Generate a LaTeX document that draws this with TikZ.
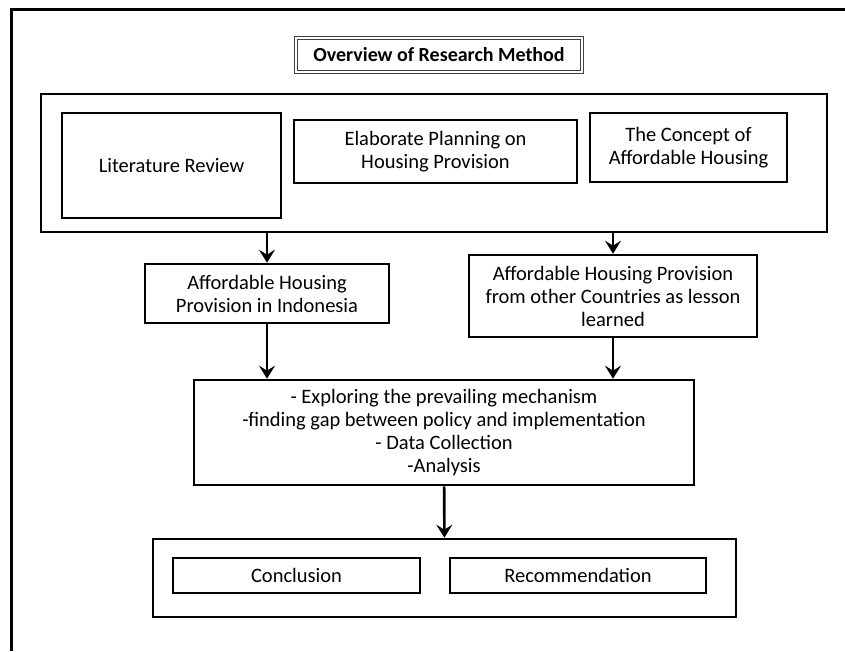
\documentclass[tikz,border=0pt]{standalone}
\usepackage{fontspec}
\setmainfont{Carlito}
\usetikzlibrary{positioning,arrows.meta}

\begin{document}
\begin{tikzpicture}[
        x=1pt, y=-1pt,
        >={Stealth[length=13pt,width=16pt,inset=5pt]},
        every node/.style={font=\fontsize{20.5}{23}\selectfont,align=center,inner sep=2pt},
        box/.style={draw,line width=2.6pt,rectangle},
        frame/.style={draw,line width=2.6pt,rectangle},
        hdr/.style={draw=black!75,line width=1pt,double=white,double distance=2.4pt,
                    font=\fontsize{20}{23}\selectfont\bfseries},
        link/.style={->,line width=2.6pt},
      ]
      \useasboundingbox (0,0) rectangle (845,651);

      % Page border (cut off on the right and bottom)
      \coordinate (pgtl) at (11,9);
      \draw[line width=3pt] (845,9) -- (pgtl) -- (11,651);

      % Title
      \node[hdr, minimum width=286pt, minimum height=34pt] (title) at (439,55)
        {Overview of Research Method};

      % Literature review block
      \node[frame, minimum width=786pt, minimum height=138pt] (lit) at (434,163) {};
      \node[box, minimum width=219pt, minimum height=105pt] (review) at (171.5,165.5)
        {Literature Review};
      \node[box, minimum width=283pt, minimum height=63pt] (plan) at (435.5,151.5)
        {Elaborate Planning on\\Housing Provision};
      \node[box, minimum width=197pt, minimum height=69pt] (concept) at (688.5,147.5)
        {The Concept of\\Affordable Housing};

      % Second level
      \node[box, minimum width=244pt, minimum height=59pt] (indo) at (267,293.5)
        {Affordable Housing\\Provision in Indonesia};
      \node[box, minimum width=288pt, minimum height=82pt] (abroad) at (613,296)
        {Affordable Housing Provision\\from other Countries as lesson\\learned};
      \draw[link] (lit.south -| indo) -- (indo);
      \draw[link] (lit.south -| abroad) -- (abroad);

      % Method
      \node[box, minimum width=500pt, minimum height=105pt] (method) at (444,432.5)
        {- Exploring the prevailing mechanism\\-finding gap between policy and implementation\\- Data Collection\\-Analysis};
      \draw[link] (indo) -- (method.north -| indo);
      \draw[link] (abroad) -- (method.north -| abroad);

      % Output block
      \node[frame, minimum width=583pt, minimum height=78pt] (result) at (444.5,578) {};
      \node[box, minimum width=247pt, minimum height=35pt] (concl) at (296.5,575.5)
        {Conclusion};
      \node[box, minimum width=256pt, minimum height=35pt] (recom) at (578,575.5)
        {Recommendation};
      \draw[link] (method) -- (result);
    \end{tikzpicture}
\end{document}
